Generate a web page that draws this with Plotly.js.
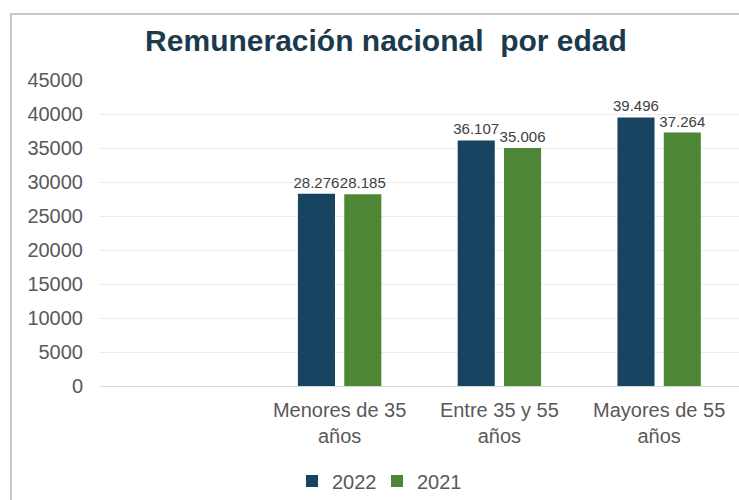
<!DOCTYPE html>
<html>
<head>
<meta charset="utf-8">
<script src="https://cdn.plot.ly/plotly-3.0.1.min.js"></script>
<style>
    body { margin: 0; background: #fff; }
    #wrap { position: relative; width: 739px; height: 500px; overflow: hidden; }
    #frame { position: absolute; left: 10px; top: 13px; width: 760px; height: 520px; border: 2px solid #c9c9c9; box-sizing: border-box; pointer-events: none; }
    #chart { position: absolute; left: 0; top: 0; width: 739px; height: 500px; }
</style>
</head>
<body>
<div id="wrap">
    <div id="chart"></div>
    <div id="frame"></div>
</div>
<script>
    const categories = ['Menores de 35<br>años', 'Entre 35 y 55<br>años', 'Mayores de 55<br>años']
    const values2022 = [28276, 36107, 39496]
    const values2021 = [28185, 35006, 37264]
    const yTicks = [0, 5000, 10000, 15000, 20000, 25000, 30000, 35000, 40000, 45000]

    // a bit smaller than the original so the touching pair of labels does not collide
    const textFont = {family: 'Liberation Sans, Arial, sans-serif', size: 15, color: '#404040'}

    const trace2022 = {
        x: categories,
        y: values2022,
        type: 'bar',
        name: '2022',
        marker: {color: '#184361'},
        texttemplate: '%{y:,.0f}',
        textposition: 'outside',
        constraintext: 'none',
        cliponaxis: false,
        textfont: textFont,
        hoverinfo: 'none'
    }

    const trace2021 = {
        x: categories,
        y: values2021,
        type: 'bar',
        name: '2021',
        marker: {color: '#4d8735'},
        texttemplate: '%{y:,.0f}',
        textposition: 'outside',
        constraintext: 'none',
        cliponaxis: false,
        textfont: textFont,
        hoverinfo: 'none'
    }

    const layout = {
        width: 739,
        height: 500,
        separators: ',.',
        paper_bgcolor: '#ffffff',
        plot_bgcolor: '#ffffff',
        margin: {l: 100, r: 0, t: 80, b: 114},
        title: {
            text: '<b>Remuneración nacional\u00a0 por edad</b>',
            font: {family: 'Liberation Sans, Arial, sans-serif', size: 30, color: '#1b3b4c'},
            x: 386 / 739,
            xanchor: 'center',
            y: 1 - 40 / 500,
            yanchor: 'middle'
        },
        barmode: 'group',
        bargap: 0.42,
        bargroupgap: 0.2,
        showlegend: true,
        legend: {
            orientation: 'h',
            xref: 'container',
            x: 377 / 739,
            xanchor: 'center',
            yref: 'container',
            y: 19 / 500,
            yanchor: 'middle',
            font: {family: 'Liberation Sans, Arial, sans-serif', size: 20, color: '#595959'},
            itemwidth: 30,
            entrywidth: 40,
            entrywidthmode: 'pixels',
            traceorder: 'normal'
        },
        xaxis: {
            type: 'category',
            range: [-1.5, 2.5],
            showgrid: false,
            showline: false,
            zeroline: false,
            ticks: '',
            ticklabelstandoff: 10,
            tickfont: {family: 'Liberation Sans, Arial, sans-serif', size: 20, color: '#595959'}
        },
        yaxis: {
            range: [0, 45000],
            tickvals: yTicks,
            tickformat: 'd',
            showgrid: true,
            gridcolor: '#ececec',
            gridwidth: 1,
            zeroline: true,
            zerolinecolor: '#d9d9d9',
            zerolinewidth: 1,
            showline: false,
            ticks: '',
            ticklabelstandoff: 16,
            tickfont: {family: 'Liberation Sans, Arial, sans-serif', size: 20, color: '#595959'}
        }
    }

    Plotly.newPlot('chart', [trace2022, trace2021], layout, {displayModeBar: false, staticPlot: true})
</script>
</body>
</html>
